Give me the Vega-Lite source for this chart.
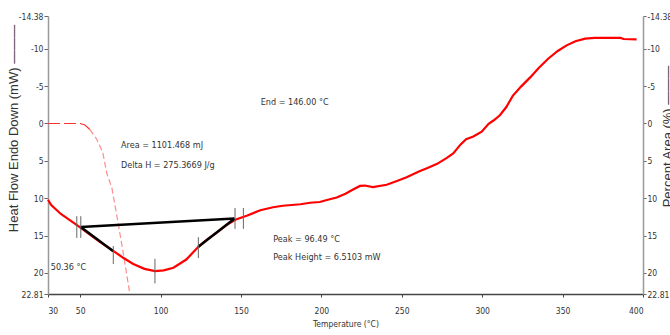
{
  "$schema": "https://vega.github.io/schema/vega-lite/v6.json",
  "width": 595,
  "height": 278,
  "autosize": {"type": "none"},
  "padding": {"left": 48, "top": 16, "right": 27, "bottom": 41},
  "background": "white",
  "config": {
    "view": {"stroke": null},
    "axis": {
      "grid": false,
      "labelFont": "DejaVu Sans Condensed, Liberation Sans, sans-serif",
      "labelFontSize": 8.5,
      "labelColor": "#333",
      "titleFont": "Liberation Sans, Arial, sans-serif",
      "titleFontWeight": "normal",
      "titleColor": "#333"
    }
  },
  "datasets": {
    "heat": [
      {"t": 30, "v": 10.2}, {"t": 32, "v": 10.9}, {"t": 35, "v": 11.5}, {"t": 38, "v": 12.1},
      {"t": 42, "v": 12.7}, {"t": 46, "v": 13.3}, {"t": 50, "v": 13.9}, {"t": 55, "v": 14.7},
      {"t": 62, "v": 15.8}, {"t": 70.6, "v": 17.05}, {"t": 77, "v": 18.0}, {"t": 83, "v": 18.8},
      {"t": 90, "v": 19.45}, {"t": 96.5, "v": 19.75}, {"t": 102, "v": 19.65}, {"t": 108, "v": 19.3},
      {"t": 116, "v": 18.2}, {"t": 123.5, "v": 16.5}, {"t": 129, "v": 15.5}, {"t": 135, "v": 14.6},
      {"t": 141, "v": 13.6}, {"t": 147.3, "v": 12.8}, {"t": 154, "v": 12.3}, {"t": 162, "v": 11.6},
      {"t": 170, "v": 11.2}, {"t": 176, "v": 11.0}, {"t": 187, "v": 10.8}, {"t": 193, "v": 10.6},
      {"t": 199, "v": 10.5}, {"t": 204, "v": 10.2}, {"t": 209.5, "v": 9.9}, {"t": 215, "v": 9.4},
      {"t": 220, "v": 8.8}, {"t": 224, "v": 8.35}, {"t": 227, "v": 8.3}, {"t": 232, "v": 8.5},
      {"t": 240.6, "v": 8.2}, {"t": 247, "v": 7.7}, {"t": 253, "v": 7.2}, {"t": 261, "v": 6.4},
      {"t": 266, "v": 5.95}, {"t": 272, "v": 5.4}, {"t": 278, "v": 4.6}, {"t": 282, "v": 4.0},
      {"t": 286.6, "v": 2.8}, {"t": 290, "v": 2.1}, {"t": 294.5, "v": 1.75}, {"t": 299.7, "v": 1.1},
      {"t": 304, "v": 0.05}, {"t": 307, "v": -0.4}, {"t": 311, "v": -1.1}, {"t": 315, "v": -2.2},
      {"t": 319, "v": -3.7}, {"t": 324, "v": -4.9}, {"t": 330, "v": -6.2}, {"t": 335, "v": -7.4},
      {"t": 341, "v": -8.66}, {"t": 347, "v": -9.7}, {"t": 352.5, "v": -10.45}, {"t": 358, "v": -11.0},
      {"t": 364, "v": -11.35}, {"t": 370, "v": -11.45}, {"t": 386, "v": -11.45}, {"t": 388, "v": -11.3},
      {"t": 396, "v": -11.25}
    ],
    "area": [
      {"part": "a", "t": 30, "v": 0}, {"part": "a", "t": 50, "v": 0}, {"part": "a", "t": 53, "v": 0.2},
      {"part": "a", "t": 56, "v": 0.8},
      {"part": "b", "t": 56, "v": 0.8}, {"part": "b", "t": 60, "v": 2.0}, {"part": "b", "t": 64, "v": 3.8},
      {"part": "b", "t": 66.6, "v": 6.7}, {"part": "b", "t": 69.7, "v": 8.6}, {"part": "b", "t": 73.6, "v": 13.3},
      {"part": "b", "t": 77, "v": 17.6}, {"part": "b", "t": 80.3, "v": 22.0}, {"part": "b", "t": 80.9, "v": 22.81}
    ],
    "base": [
      {"seg": "b", "t": 50.36, "v": 13.85}, {"seg": "b", "t": 146.0, "v": 12.72},
      {"seg": "l", "t": 50.36, "v": 13.85}, {"seg": "l", "t": 70.6, "v": 17.1},
      {"seg": "r", "t": 123.5, "v": 16.5}, {"seg": "r", "t": 146.0, "v": 12.72}
    ],
    "ticks": [
      {"t": 47.9, "v": 12.4, "v2": 15.3}, {"t": 50.4, "v": 12.4, "v2": 15.3},
      {"t": 70.6, "v": 16.4, "v2": 18.8}, {"t": 96.5, "v": 18.1, "v2": 21.4},
      {"t": 123.5, "v": 15.2, "v2": 18.0}, {"t": 146.3, "v": 11.3, "v2": 14.1},
      {"t": 151.5, "v": 11.3, "v2": 14.1}
    ],
    "labels": [
      {"t": 75.4, "v": 2.88, "text": "Area = 1101.468 mJ"},
      {"t": 75.4, "v": 5.55, "text": "Delta H = 275.3669 J/g"},
      {"t": 162.3, "v": -2.9, "text": "End = 146.00 °C"},
      {"t": 170.1, "v": 15.47, "text": "Peak = 96.49 °C"},
      {"t": 170.1, "v": 17.88, "text": "Peak Height = 6.5103 mW"},
      {"t": 31.7, "v": 19.25, "text": "50.36 °C"}
    ]
  },
  "encoding": {
    "x": {
      "field": "t",
      "type": "quantitative",
      "scale": {"domain": [30, 400], "nice": false, "zero": false},
      "axis": {
        "values": [30, 50, 100, 150, 200, 250, 300, 350, 400],
        "title": "Temperature (°C)",
        "domainColor": "#444",
        "domainWidth": 1.5,
        "tickColor": "#444",
        "tickSize": 3,
        "labelPadding": 9,
        "titleFontSize": 8.5,
        "titleFont": "DejaVu Sans Condensed, Liberation Sans, sans-serif",
        "titleY": 29,
        "titleBaseline": "middle"
      }
    }
  },
  "layer": [
    {
      "data": {"name": "area"},
      "mark": {"type": "line", "strokeWidth": 1.2, "clip": true},
      "encoding": {
        "y": {
          "field": "v",
          "type": "quantitative",
          "scale": {"domain": [-14.38, 22.81], "reverse": true, "nice": false, "zero": false},
          "axis": {
            "orient": "right",
            "values": [-14.38, -10, -5, 0, 5, 10, 15, 20, 22.81],
            "labelExpr": "datum.value + ''",
            "title": "Percent Area (%) ———",
            "titleFontSize": 13,
            "titleAngle": -90,
            "titleX": 24,
            "titleY": 120,
            "titleAlign": "center",
            "titleBaseline": "middle",
            "domainColor": "#999",
            "domainWidth": 1.5,
            "tickColor": "#666",
            "tickSize": 3,
            "labelPadding": 1
          }
        },
        "color": {"field": "part", "type": "nominal", "scale": {"domain": ["a", "b"], "range": ["#ff3030", "#ff8c8c"]}, "legend": null},
        "strokeDash": {"field": "part", "type": "nominal", "scale": {"domain": ["a", "b"], "range": [[12, 4], [6, 3]]}, "legend": null}
      }
    },
    {
      "data": {"name": "heat"},
      "mark": {"type": "line", "color": "#ff0000", "strokeWidth": 2.2},
      "encoding": {
        "y": {
          "field": "v",
          "type": "quantitative",
          "scale": {"domain": [-14.38, 22.81], "reverse": true, "nice": false, "zero": false},
          "axis": {
            "orient": "left",
            "values": [-14.38, -10, -5, 0, 5, 10, 15, 20, 22.81],
            "labelExpr": "datum.value + ''",
            "title": "Heat Flow Endo Down (mW) ———",
            "titleFontSize": 13,
            "titleAngle": -90,
            "titleX": -35,
            "titleY": 112,
            "titleAlign": "center",
            "titleBaseline": "middle",
            "domainColor": "#999",
            "domainWidth": 1.5,
            "tickColor": "#666",
            "tickSize": 4,
            "labelPadding": 1
          }
        }
      }
    },
    {
      "data": {"name": "base"},
      "mark": {"type": "line", "color": "#000000", "strokeWidth": 2.5},
      "encoding": {
        "y": {"field": "v", "type": "quantitative", "scale": {"domain": [-14.38, 22.81], "reverse": true, "nice": false, "zero": false}, "axis": null},
        "detail": {"field": "seg", "type": "nominal"}
      }
    },
    {
      "data": {"name": "ticks"},
      "mark": {"type": "rule", "color": "#666", "strokeWidth": 1},
      "encoding": {
        "y": {"field": "v", "type": "quantitative", "scale": {"domain": [-14.38, 22.81], "reverse": true, "nice": false, "zero": false}, "axis": null},
        "y2": {"field": "v2"}
      }
    },
    {
      "data": {"name": "labels"},
      "mark": {"type": "text", "align": "left", "baseline": "middle", "font": "DejaVu Sans Condensed, Liberation Sans, sans-serif", "fontSize": 9, "color": "#333"},
      "encoding": {
        "y": {"field": "v", "type": "quantitative", "scale": {"domain": [-14.38, 22.81], "reverse": true, "nice": false, "zero": false}, "axis": null},
        "text": {"field": "text", "type": "nominal"}
      }
    }
  ],
  "resolve": {"axis": {"y": "independent"}}
}
